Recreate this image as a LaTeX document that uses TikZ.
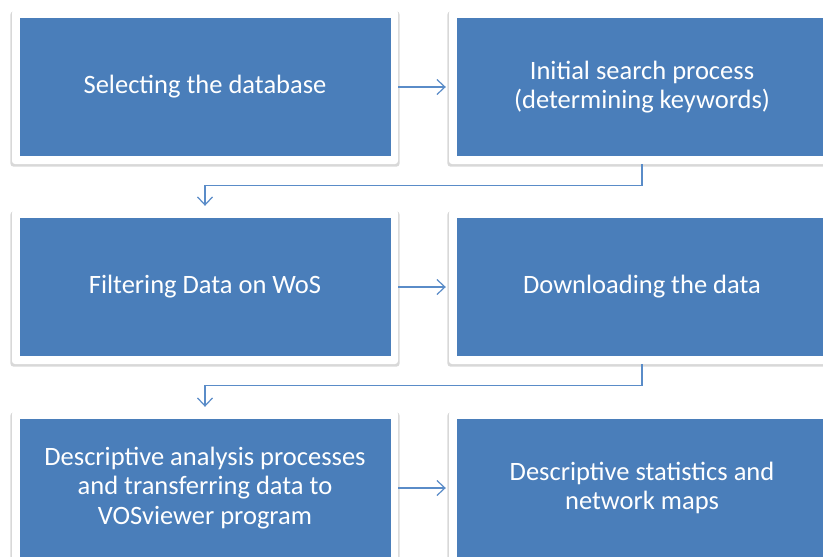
\documentclass[tikz,border=0pt]{standalone}
\usepackage{fontspec}
\setmainfont{Carlito}
\usepackage{xcolor}
\usepackage{tikz}
\usetikzlibrary{arrows.meta,positioning,shadows}

\definecolor{boxblue}{HTML}{4A7EBA}
\definecolor{linkblue}{HTML}{5A8CC8}

\begin{document}
\begin{tikzpicture}[
    x=1pt, y=-1pt,
    frame/.style={rectangle, fill=white, rounded corners=3pt, minimum width=386pt, minimum height=154pt,
        drop shadow={shadow xshift=0pt, shadow yshift=-2pt, shadow scale=1.008, opacity=0.3, fill=gray}},
    stage/.style={rectangle, fill=boxblue, minimum width=371pt, minimum height=138pt, align=center,
        text=white, font=\fontsize{26.5}{29.5}\selectfont},
    arrow/.style={-{Straight Barb[length=8pt,width=15pt]}, draw=linkblue, line width=1.2pt}
]
    \useasboundingbox (0,0) rectangle (823,557);
    \clip (0,0) rectangle (823,557);
    \fill[white] (0,0) rectangle (823,557);

    % Frames
    \node[frame] (f1) at (205,87) {};
    \node[frame] (f2) at (642,87) {};
    \node[frame] (f3) at (205,287) {};
    \node[frame] (f4) at (642,287) {};
    \node[frame] (f5) at (205,488) {};
    \node[frame] (f6) at (642,488) {};

    % Stages
    \node[stage] (s1) at (f1) {Selecting the database};
    \node[stage] (s2) at (f2) {Initial search process\\(determining keywords)};
    \node[stage] (s3) at (f3) {Filtering Data on WoS};
    \node[stage] (s4) at (f4) {Downloading the data};
    \node[stage] (s5) at (f5) {Descriptive analysis processes\\and transferring data to\\VOSviewer program};
    \node[stage] (s6) at (f6) {Descriptive statistics and\\network maps};

    % Arrows
    \draw[arrow, shorten >=3pt] (f1) -- (f2);
    \draw[arrow, shorten >=3pt] (f3) -- (f4);
    \draw[arrow, shorten >=3pt] (f5) -- (f6);
    \draw[arrow, shorten >=4pt] (f2.south) -- ++(0,21) -| (f3.north);
    \draw[arrow, shorten >=4pt] (f4.south) -- ++(0,21) -| (f5.north);
\end{tikzpicture}
\end{document}
